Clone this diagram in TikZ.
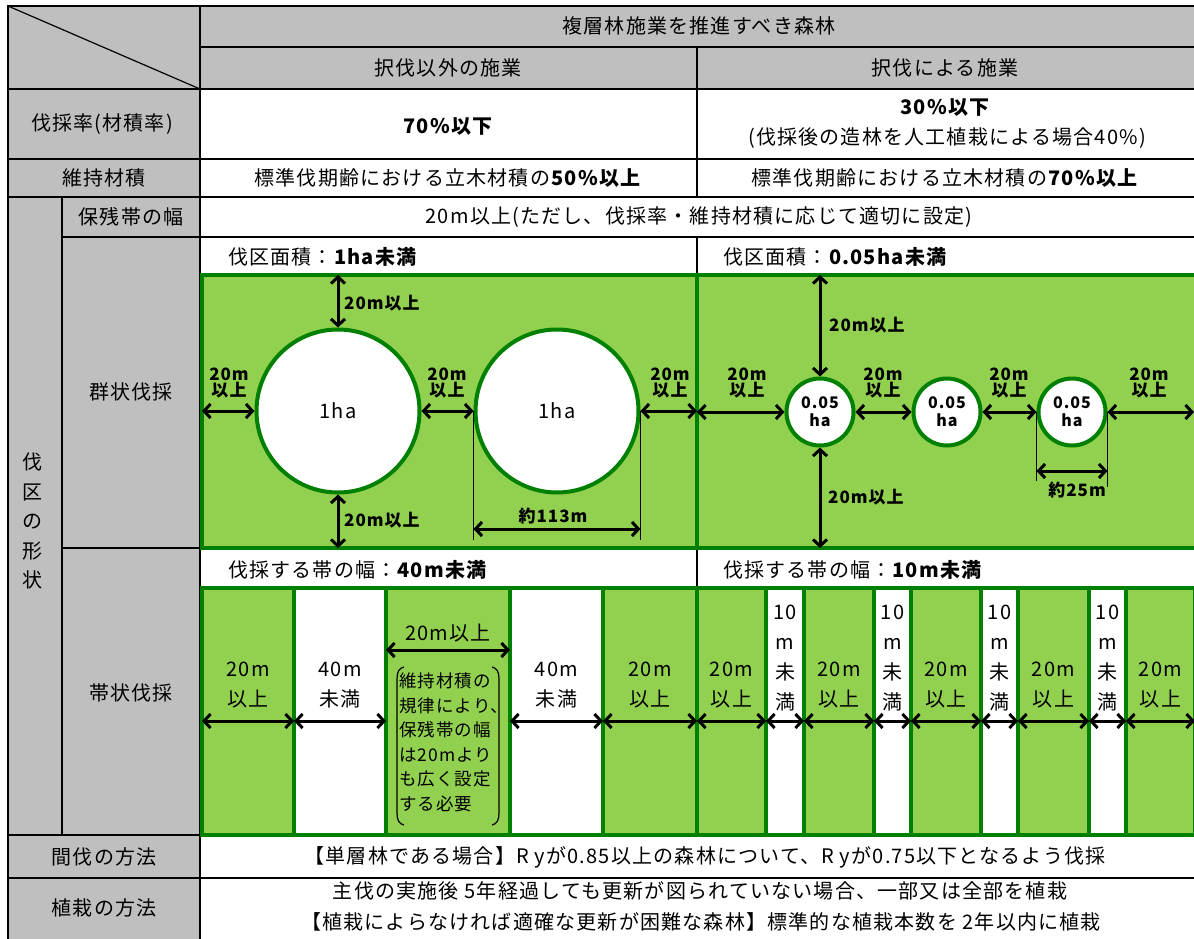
\documentclass[tikz,border=0pt]{standalone}
\usepackage{fontspec}
\setmainfont{Noto Sans CJK JP}[LetterSpace=6]
\setsansfont{Noto Sans CJK JP}[LetterSpace=6]
\usetikzlibrary{arrows.meta}
\definecolor{hdrgray}{RGB}{191,191,191}
\definecolor{lgreen}{RGB}{146,208,80}
\definecolor{dgreen}{RGB}{0,128,0}
\tikzset{
  gridline/.style={line width=2pt, draw=black},
  cell/.style={inner sep=0pt, outer sep=0pt, font=\fontsize{20}{22}\selectfont},
  greenbox/.style={draw=dgreen, fill=lgreen, line width=4pt, inner sep=0pt, outer sep=0pt},
  whitebox/.style={draw=dgreen, fill=white, line width=4pt, inner sep=0pt, outer sep=0pt},
  bigc/.style={circle, draw=dgreen, fill=white, line width=4pt, minimum size=163pt, inner sep=0pt, font=\fontsize{20}{22}\selectfont},
  smc/.style={circle, draw=dgreen, fill=white, line width=4pt, minimum size=67pt, inner sep=0pt, align=center, font=\bfseries\fontsize{16}{18}\selectfont},
  lbl/.style={inner sep=0pt, align=center, font=\bfseries\fontsize{17}{16}\selectfont},
  striptxt/.style={inner sep=0pt, align=center, font=\fontsize{20}{30}\selectfont},
  dimarrow/.style={{Straight Barb[length=6.5pt,width=14pt]}-{Straight Barb[length=6.5pt,width=14pt]}, line width=3pt, draw=black},
  thinline/.style={line width=1pt, draw=black},
}
\begin{document}
\begin{tikzpicture}[x=1pt,y=-1pt]
\useasboundingbox (0,0) rectangle (1194,939);
\fill[white] (0,0) rectangle (1194,939);
% gray areas
\fill[hdrgray] (8,6) rectangle (200,939);
\fill[hdrgray] (200,6) rectangle (1196,89);
% grid
\draw[gridline] (8,6) -- (1196,6);
\draw[gridline] (8,5) -- (8,939);
\draw[gridline] (200,5) -- (200,939);
\draw[gridline] (200,47) -- (1196,47);
\draw[gridline] (8,89) -- (1196,89);
\draw[gridline] (697,47) -- (697,197);
\draw[gridline] (8,159) -- (1196,159);
\draw[gridline] (8,197) -- (1196,197);
\draw[gridline] (62,197) -- (62,835);
\draw[gridline] (62,237) -- (1196,237);
\draw[gridline] (62,548) -- (200,548);
\draw[gridline] (697,237) -- (697,275);
\draw[gridline] (697,548) -- (697,588);
\draw[gridline] (8,835) -- (1196,835);
\draw[gridline] (8,878) -- (1196,878);
\draw[line width=1.2pt] (8,6) -- (200,89);

% header texts
\node[cell] (h1) at (699,26) {複層林施業を推進すべき森林};
\node[cell] (h2a) at (448,68) {択伐以外の施業};
\node[cell] (h2b) at (945,68) {択伐による施業};
% rows
\node[cell] (r1) at (102,124) {伐採率(材積率)};
\node[cell] (v1) at (448,127) {\bfseries 70\%以下};
\node[cell] (v2a) at (945,108) {\bfseries 30\%以下};
\node[cell] (v2b) at (947,138) {(伐採後の造林を人工植栽による場合40\%)};
\node[cell] (r2) at (104,178) {維持材積};
\node[cell] (v3) at (448,178) {標準伐期齢における立木材積の\textbf{50\%以上}};
\node[cell] (v4) at (945,178) {標準伐期齢における立木材積の\textbf{70\%以上}};
\node[cell] (r3) at (131,217) {保残帯の幅};
\node[cell] (v5) at (699,217) {20m以上(ただし、伐採率・維持材積に応じて適切に設定)};
\node[cell, align=center, font=\fontsize{20}{29.5}\selectfont] (r0) at (33,521) {伐\\区\\の\\形\\状};
\node[cell] (r4) at (131,392) {群状伐採};
\node[cell] (r5) at (131,693) {帯状伐採};
\node[cell] (r6) at (104,857) {間伐の方法};
\node[cell] (r7) at (104,908) {植栽の方法};
\node[cell] (v6) at (705,857) {【単層林である場合】R yが0.85以上の森林について、R yが0.75以下となるよう伐採};
\node[cell] (v7a) at (700,891) {主伐の実施後 5年経過しても更新が図られていない場合、一部又は全部を植栽};
\node[cell] (v7b) at (701,922) {【植栽によらなければ適確な更新が困難な森林】標準的な植栽本数を 2年以内に植栽};

% sub headers
\node[cell, anchor=west] (a1) at (228,257) {伐区面積：\textbf{1ha未満}};
\node[cell, anchor=west] (a2) at (723,257) {伐区面積：\textbf{0.05ha未満}};
\node[cell, anchor=west] (b1) at (228,570) {伐採する帯の幅：\textbf{40m未満}};
\node[cell, anchor=west] (b2) at (723,570) {伐採する帯の幅：\textbf{10m未満}};

% group cutting regions
\node[greenbox, minimum width=495pt, minimum height=273pt] (gL) at (449.5,411.5) {};
\node[greenbox, minimum width=499pt, minimum height=273pt] (gR) at (946.5,411.5) {};

\node[bigc] (c1) at (338,411) {1ha};
\node[bigc] (c2) at (557,411) {1ha};
\coordinate (lt) at (338,275);
\coordinate (lb) at (338,548);
\coordinate (ll) at (202,411);
\coordinate (lr) at (697,411);
\draw[dimarrow] (lt) -- (c1.north);
\draw[dimarrow] (c1.south) -- (lb);
\draw[dimarrow] (ll) -- (c1.west);
\draw[dimarrow] (c1.east) -- (c2.west);
\draw[dimarrow] (c2.east) -- (lr);
\node[lbl, anchor=west] (lt1) at (344,303) {20m以上};
\node[lbl, anchor=west] (lb1) at (344,520) {20m以上};
\node[lbl] (lh1) at (229,383) {20m\\以上};
\node[lbl] (lh2) at (447,383) {20m\\以上};
\node[lbl] (lh3) at (670,383) {20m\\以上};
\coordinate (m1) at (473.5,540);
\coordinate (m2) at (640.5,540);
\coordinate (k1) at (473.5,529);
\coordinate (k2) at (640.5,529);
\draw[thinline] (c2.west) -- (m1);
\draw[thinline] (c2.east) -- (m2);
\draw[dimarrow] (k1) -- (k2);
\node[lbl] (w1) at (553,516) {約113m};

\node[smc] (s1) at (820,412) {0.05\\ha};
\node[smc] (s2) at (947,412) {0.05\\ha};
\node[smc] (s3) at (1072,412) {0.05\\ha};
\coordinate (rt) at (820,275);
\coordinate (rb) at (820,548);
\coordinate (rl) at (697,412);
\coordinate (rr) at (1194,412);
\draw[dimarrow] (rt) -- (s1.north);
\draw[dimarrow] (s1.south) -- (rb);
\draw[dimarrow] (rl) -- (s1.west);
\draw[dimarrow] (s1.east) -- (s2.west);
\draw[dimarrow] (s2.east) -- (s3.west);
\draw[dimarrow] (s3.east) -- (rr);
\node[lbl, anchor=west] (rt1) at (829,325) {20m以上};
\node[lbl, anchor=west] (rb1) at (828,497) {20m以上};
\node[lbl] (rh1) at (747,383) {20m\\以上};
\node[lbl] (rh2) at (883,383) {20m\\以上};
\node[lbl] (rh3) at (1009,383) {20m\\以上};
\node[lbl] (rh4) at (1149,383) {20m\\以上};
\coordinate (n1) at (1036.5,481);
\coordinate (n2) at (1107.5,487);
\coordinate (q1) at (1036.5,471);
\coordinate (q2) at (1107.5,471);
\draw[thinline] (s3.west) -- (n1);
\draw[thinline] (s3.east) -- (n2);
\draw[dimarrow] (q1) -- (q2);
\node[lbl] (w2) at (1077,490) {約25m};

% strip cutting
\node[greenbox, minimum width=92pt, minimum height=247pt] (sa1) at (248,711.5) {};
\node[whitebox, minimum width=92pt, minimum height=247pt] (sa2) at (340,711.5) {};
\node[greenbox, minimum width=124pt, minimum height=247pt] (sa3) at (448,711.5) {};
\node[whitebox, minimum width=93pt, minimum height=247pt] (sa4) at (556.5,711.5) {};
\node[greenbox, minimum width=94pt, minimum height=247pt] (sa5) at (650,711.5) {};

\node[greenbox, minimum width=69pt, minimum height=247pt] (sb1) at (731.5,711.5) {};
\node[whitebox, minimum width=38pt, minimum height=247pt] (sb2) at (785,711.5) {};
\node[greenbox, minimum width=70pt, minimum height=247pt] (sb3) at (839,711.5) {};
\node[whitebox, minimum width=37pt, minimum height=247pt] (sb4) at (892.5,711.5) {};
\node[greenbox, minimum width=70pt, minimum height=247pt] (sb5) at (946,711.5) {};
\node[whitebox, minimum width=37pt, minimum height=247pt] (sb6) at (999.5,711.5) {};
\node[greenbox, minimum width=71pt, minimum height=247pt] (sb7) at (1053.5,711.5) {};
\node[whitebox, minimum width=37pt, minimum height=247pt] (sb8) at (1107.5,711.5) {};
\node[greenbox, minimum width=69pt, minimum height=247pt] (sb9) at (1160.5,711.5) {};

\coordinate (ay) at (0,721);
\foreach \s in {sa1,sa2,sa4,sa5,sb1,sb2,sb3,sb4,sb5,sb6,sb7,sb8,sb9}{
  \draw[dimarrow] (\s.west |- ay) -- (\s.east |- ay);
}
\coordinate (ay2) at (0,650);
\draw[dimarrow] (sa3.west |- ay2) -- (sa3.east |- ay2);

\node[striptxt] (ta1) at (248,685) {20m\\以上};
\node[striptxt] (ta2) at (340,685) {40m\\未満};
\node[striptxt] (ta4) at (556.5,685) {40m\\未満};
\node[striptxt] (ta5) at (650,685) {20m\\以上};
\node[cell] (ta3) at (448,633) {20m以上};
\node[inner sep=0pt, align=left, anchor=north west, font=\fontsize{17.5}{24.5}\selectfont] (ta3b) at (399,673) {維持材積の\\規律により、\\保残帯の幅\\は20mより\\も広く設定\\する必要};
\draw[line width=1.2pt] (404,667) .. controls (399,668) and (397,672) .. (397,679) -- (397,813) .. controls (397,820) and (399,824) .. (404,825);
\draw[line width=1.2pt] (492,667) .. controls (497,668) and (499,672) .. (499,679) -- (499,813) .. controls (499,820) and (497,824) .. (492,825);

\foreach \s/\x in {tb1/731.5,tb3/839,tb5/946,tb7/1053.5,tb9/1160.5}{
  \node[striptxt] (\s) at (\x,685) {20m\\以上};
}
\foreach \s/\x in {tb2/785,tb4/892.5,tb6/999.5,tb8/1107.5}{
  \node[striptxt] (\s) at (\x,658) {10\\m\\未\\満};
}
\end{tikzpicture}
\end{document}
